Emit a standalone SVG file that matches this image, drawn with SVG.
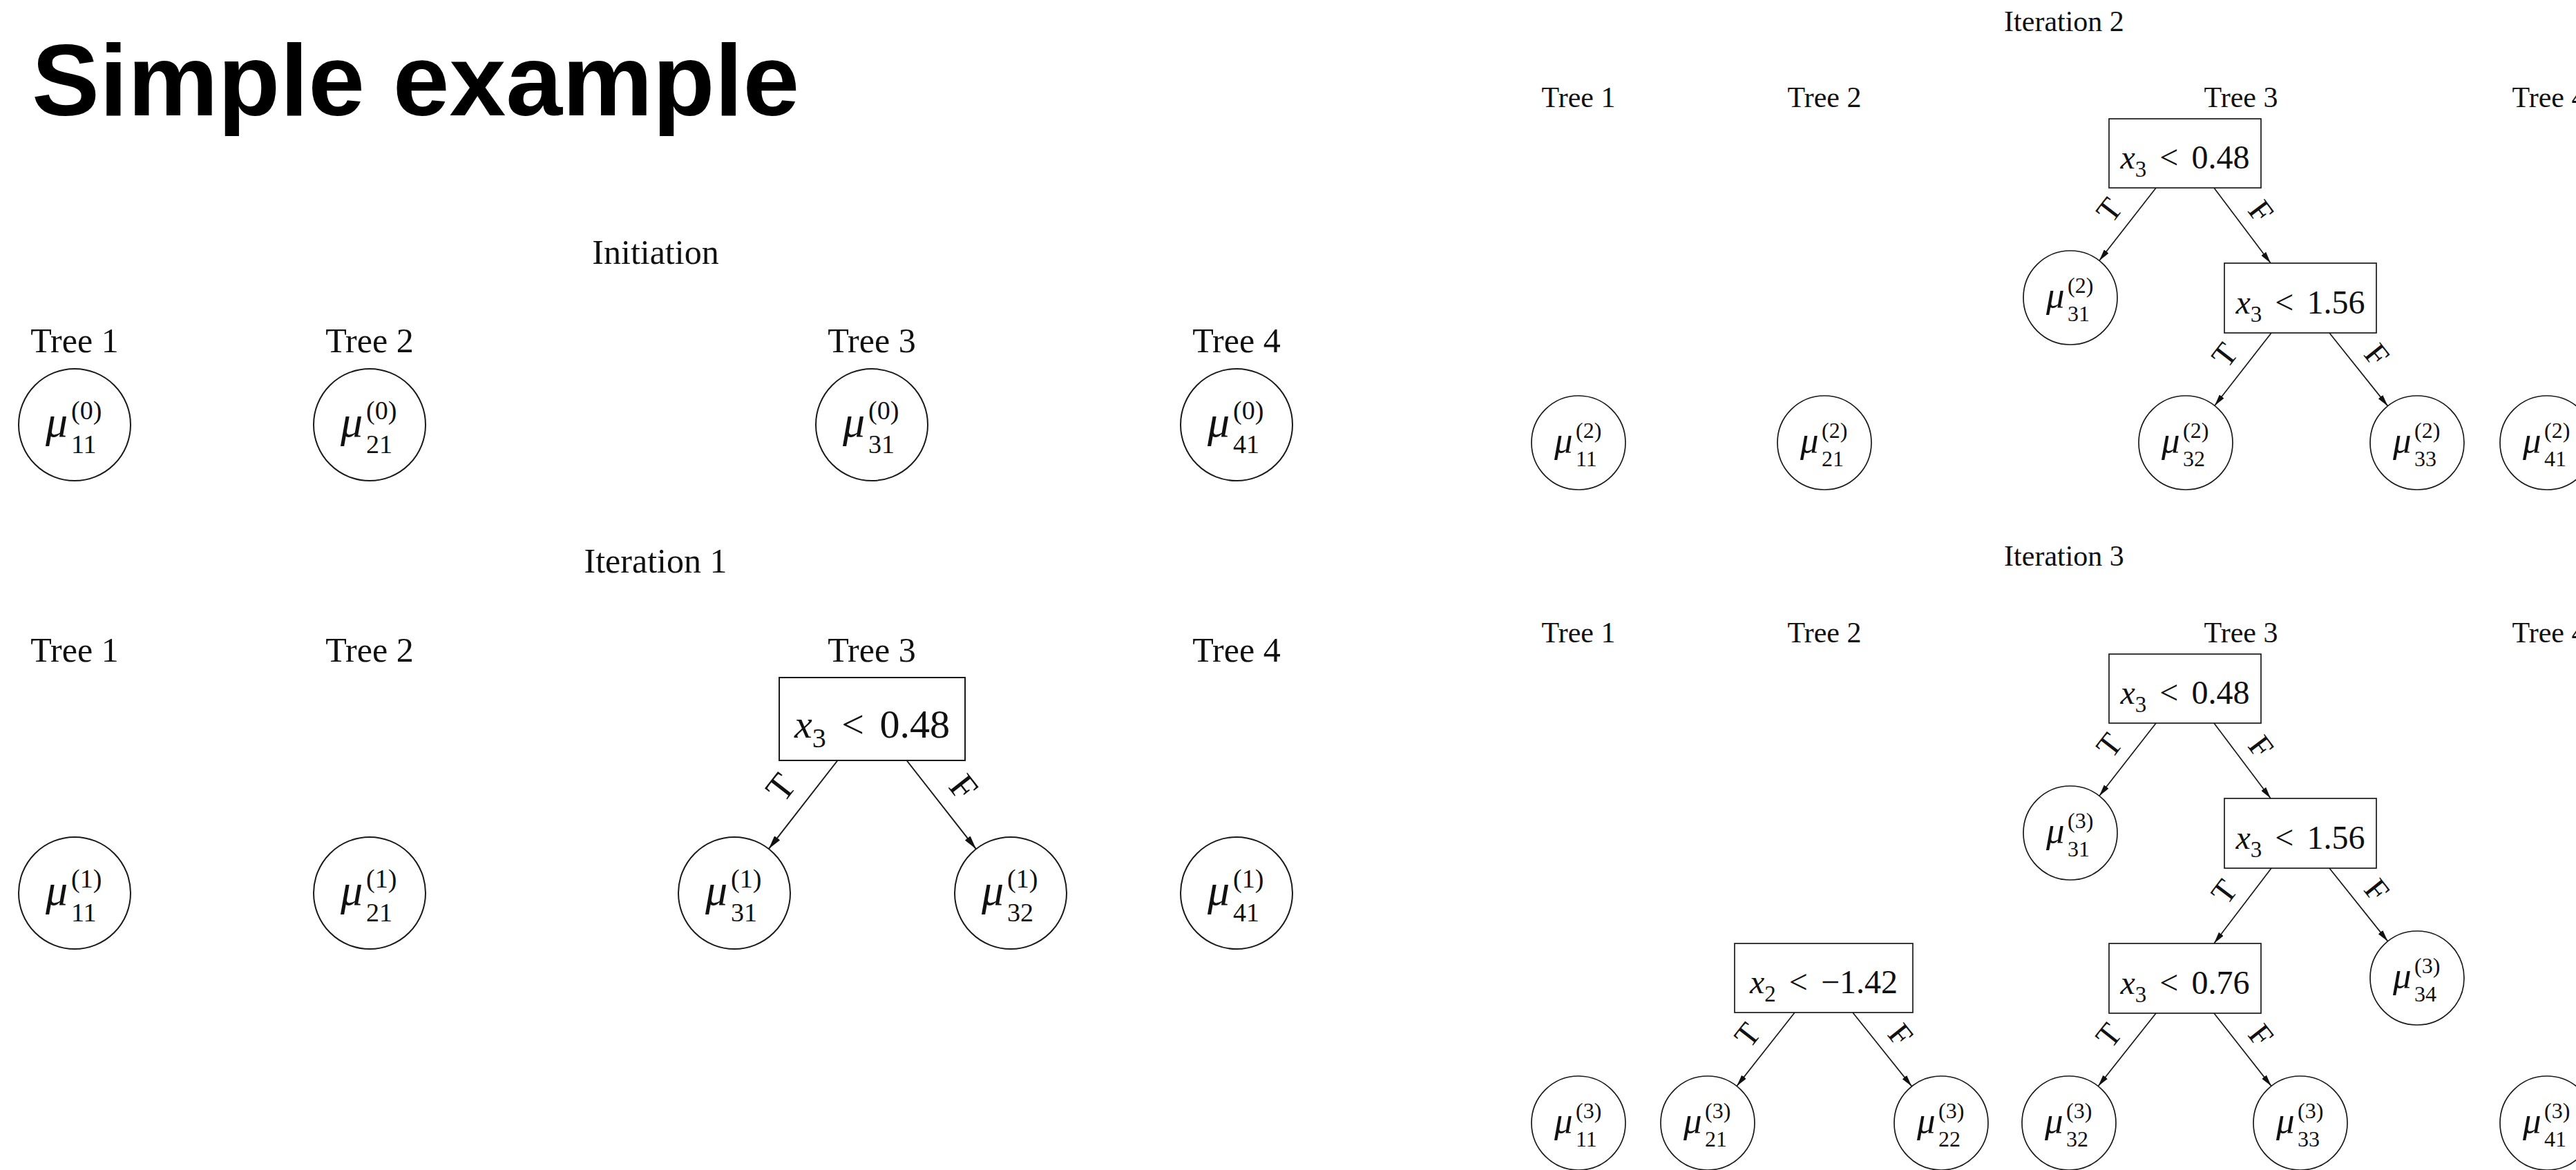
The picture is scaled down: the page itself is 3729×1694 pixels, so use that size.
<svg xmlns="http://www.w3.org/2000/svg" width="3729" height="1694" viewBox="0 0 3729 1694">
<style>
.bg{fill:#fff}
.title{font-family:"Liberation Sans",Arial,sans-serif;font-weight:bold;font-size:147px;fill:#000}
.t{font-family:"Liberation Serif","Times New Roman",serif;fill:#111}
.hL{font-size:50px;text-anchor:middle}
.hR{font-size:42px;text-anchor:middle}
.L circle,.L rect{fill:#fff;stroke:#1a1a1a;stroke-width:2}
.R circle,.R rect{fill:#fff;stroke:#1a1a1a;stroke-width:1.7}
.mu{font-style:italic}
.L .m{font-size:64px}
.L .s{font-size:38px}
.R .m{font-size:53px}
.R .s{font-size:32px}
.L .c{font-size:58px;text-anchor:middle}
.R .c{font-size:48px;text-anchor:middle}
.L .c .s{font-size:40px}
.R .c .s{font-size:33px}
.eL line{stroke:#1a1a1a;stroke-width:2;marker-end:url(#ah)}
.eR line{stroke:#1a1a1a;stroke-width:1.7;marker-end:url(#ah)}
.eL text{font-size:54px;text-anchor:middle}
.eR text{font-size:47px;text-anchor:middle}
</style>
<defs>
<marker id="ah" viewBox="0 0 10 5" refX="10" refY="2.5" markerWidth="10" markerHeight="5" orient="auto" markerUnits="strokeWidth"><path d="M0,0 L10,2.5 L0,5 z" fill="#111"/></marker>
</defs>
<rect class="bg" x="0" y="0" width="3729" height="1694"/>
<text class="title" x="46" y="167">Simple example</text>

<!-- Left panel headings -->
<g id="headings-left" class="t">
<text class="hL" x="949" y="382">Initiation</text>
<text class="hL" x="108" y="510">Tree 1</text>
<text class="hL" x="535" y="510">Tree 2</text>
<text class="hL" x="1262" y="510">Tree 3</text>
<text class="hL" x="1790" y="510">Tree 4</text>
<text class="hL" x="949" y="829">Iteration 1</text>
<text class="hL" x="108" y="958">Tree 1</text>
<text class="hL" x="535" y="958">Tree 2</text>
<text class="hL" x="1262" y="958">Tree 3</text>
<text class="hL" x="1790" y="958">Tree 4</text>
</g>

<!-- Initiation nodes -->
<g id="init-mu11" class="L"><circle cx="108" cy="615" r="81"/><text class="t"><tspan class="m mu" x="66" y="632">μ</tspan><tspan class="s" x="103" y="607">(0)</tspan><tspan class="s" x="103" y="656">11</tspan></text></g>
<g id="init-mu21" class="L"><circle cx="535" cy="615" r="81"/><text class="t"><tspan class="m mu" x="493" y="632">μ</tspan><tspan class="s" x="530" y="607">(0)</tspan><tspan class="s" x="530" y="656">21</tspan></text></g>
<g id="init-mu31" class="L"><circle cx="1262" cy="615" r="81"/><text class="t"><tspan class="m mu" x="1220" y="632">μ</tspan><tspan class="s" x="1257" y="607">(0)</tspan><tspan class="s" x="1257" y="656">31</tspan></text></g>
<g id="init-mu41" class="L"><circle cx="1790" cy="615" r="81"/><text class="t"><tspan class="m mu" x="1748" y="632">μ</tspan><tspan class="s" x="1785" y="607">(0)</tspan><tspan class="s" x="1785" y="656">41</tspan></text></g>

<!-- Iteration 1 nodes -->
<g id="it1-mu11" class="L"><circle cx="108" cy="1293" r="81"/><text class="t"><tspan class="m mu" x="66" y="1310">μ</tspan><tspan class="s" x="103" y="1285">(1)</tspan><tspan class="s" x="103" y="1334">11</tspan></text></g>
<g id="it1-mu21" class="L"><circle cx="535" cy="1293" r="81"/><text class="t"><tspan class="m mu" x="493" y="1310">μ</tspan><tspan class="s" x="530" y="1285">(1)</tspan><tspan class="s" x="530" y="1334">21</tspan></text></g>
<g id="it1-split1" class="L"><rect x="1128" y="981" width="269" height="120"/><text class="t c" x="1262.5" y="1068"><tspan class="mu">x</tspan><tspan class="s" dy="14">3</tspan><tspan dy="-14" dx="8"> &lt;</tspan><tspan dx="8"> 0.48</tspan></text></g>
<g id="it1-mu31" class="L"><circle cx="1063" cy="1293" r="81"/><text class="t"><tspan class="m mu" x="1021" y="1310">μ</tspan><tspan class="s" x="1058" y="1285">(1)</tspan><tspan class="s" x="1058" y="1334">31</tspan></text></g>
<g id="it1-mu32" class="L"><circle cx="1463" cy="1293" r="81"/><text class="t"><tspan class="m mu" x="1421" y="1310">μ</tspan><tspan class="s" x="1458" y="1285">(1)</tspan><tspan class="s" x="1458" y="1334">32</tspan></text></g>
<g id="it1-mu41" class="L"><circle cx="1790" cy="1293" r="81"/><text class="t"><tspan class="m mu" x="1748" y="1310">μ</tspan><tspan class="s" x="1785" y="1285">(1)</tspan><tspan class="s" x="1785" y="1334">41</tspan></text></g>

<!-- Right panel headings -->
<g id="headings-right" class="t">
<text class="hR" x="2988" y="45">Iteration 2</text>
<text class="hR" x="2285" y="155">Tree 1</text>
<text class="hR" x="2641" y="155">Tree 2</text>
<text class="hR" x="3244" y="155">Tree 3</text>
<text class="hR" x="3690" y="155">Tree 4</text>
<text class="hR" x="2988" y="819">Iteration 3</text>
<text class="hR" x="2285" y="930">Tree 1</text>
<text class="hR" x="2641" y="930">Tree 2</text>
<text class="hR" x="3244" y="930">Tree 3</text>
<text class="hR" x="3690" y="930">Tree 4</text>
</g>

<!-- Iteration 2 nodes -->
<g id="it2-split1" class="R"><rect x="3053" y="172" width="220" height="100"/><text class="t c" x="3163" y="244"><tspan class="mu">x</tspan><tspan class="s" dy="12">3</tspan><tspan dy="-12" dx="7"> &lt;</tspan><tspan dx="7"> 0.48</tspan></text></g>
<g id="it2-mu31" class="R"><circle cx="2997" cy="431" r="68"/><text class="t"><tspan class="m mu" x="2962" y="445">μ</tspan><tspan class="s" x="2993" y="424">(2)</tspan><tspan class="s" x="2993" y="465">31</tspan></text></g>
<g id="it2-split2" class="R"><rect x="3220" y="381" width="220" height="101"/><text class="t c" x="3330" y="453.5"><tspan class="mu">x</tspan><tspan class="s" dy="12">3</tspan><tspan dy="-12" dx="7"> &lt;</tspan><tspan dx="7"> 1.56</tspan></text></g>
<g id="it2-mu11" class="R"><circle cx="2285" cy="641" r="68"/><text class="t"><tspan class="m mu" x="2250" y="655">μ</tspan><tspan class="s" x="2281" y="634">(2)</tspan><tspan class="s" x="2281" y="675">11</tspan></text></g>
<g id="it2-mu21" class="R"><circle cx="2641" cy="641" r="68"/><text class="t"><tspan class="m mu" x="2606" y="655">μ</tspan><tspan class="s" x="2637" y="634">(2)</tspan><tspan class="s" x="2637" y="675">21</tspan></text></g>
<g id="it2-mu32" class="R"><circle cx="3164" cy="641" r="68"/><text class="t"><tspan class="m mu" x="3129" y="655">μ</tspan><tspan class="s" x="3160" y="634">(2)</tspan><tspan class="s" x="3160" y="675">32</tspan></text></g>
<g id="it2-mu33" class="R"><circle cx="3499" cy="641" r="68"/><text class="t"><tspan class="m mu" x="3464" y="655">μ</tspan><tspan class="s" x="3495" y="634">(2)</tspan><tspan class="s" x="3495" y="675">33</tspan></text></g>
<g id="it2-mu41" class="R"><circle cx="3687" cy="641" r="68"/><text class="t"><tspan class="m mu" x="3652" y="655">μ</tspan><tspan class="s" x="3683" y="634">(2)</tspan><tspan class="s" x="3683" y="675">41</tspan></text></g>

<!-- Iteration 3 nodes -->
<g id="it3-split1" class="R"><rect x="3053" y="947" width="220" height="100"/><text class="t c" x="3163" y="1019"><tspan class="mu">x</tspan><tspan class="s" dy="12">3</tspan><tspan dy="-12" dx="7"> &lt;</tspan><tspan dx="7"> 0.48</tspan></text></g>
<g id="it3-mu31" class="R"><circle cx="2997" cy="1206" r="68"/><text class="t"><tspan class="m mu" x="2962" y="1220">μ</tspan><tspan class="s" x="2993" y="1199">(3)</tspan><tspan class="s" x="2993" y="1240">31</tspan></text></g>
<g id="it3-split2" class="R"><rect x="3220" y="1156" width="220" height="101"/><text class="t c" x="3330" y="1228.5"><tspan class="mu">x</tspan><tspan class="s" dy="12">3</tspan><tspan dy="-12" dx="7"> &lt;</tspan><tspan dx="7"> 1.56</tspan></text></g>
<g id="it3-split3" class="R"><rect x="3053" y="1366" width="220" height="101"/><text class="t c" x="3163" y="1438.5"><tspan class="mu">x</tspan><tspan class="s" dy="12">3</tspan><tspan dy="-12" dx="7"> &lt;</tspan><tspan dx="7"> 0.76</tspan></text></g>
<g id="it3-mu34" class="R"><circle cx="3499" cy="1416" r="68"/><text class="t"><tspan class="m mu" x="3464" y="1430">μ</tspan><tspan class="s" x="3495" y="1409">(3)</tspan><tspan class="s" x="3495" y="1450">34</tspan></text></g>
<g id="it3-split-t2" class="R"><rect x="2511" y="1366" width="258" height="100"/><text class="t c" x="2640" y="1438"><tspan class="mu">x</tspan><tspan class="s" dy="12">2</tspan><tspan dy="-12" dx="7"> &lt;</tspan><tspan dx="7"> −1.42</tspan></text></g>
<g id="it3-mu11" class="R"><circle cx="2285" cy="1626" r="68"/><text class="t"><tspan class="m mu" x="2250" y="1640">μ</tspan><tspan class="s" x="2281" y="1619">(3)</tspan><tspan class="s" x="2281" y="1660">11</tspan></text></g>
<g id="it3-mu21" class="R"><circle cx="2472" cy="1626" r="68"/><text class="t"><tspan class="m mu" x="2437" y="1640">μ</tspan><tspan class="s" x="2468" y="1619">(3)</tspan><tspan class="s" x="2468" y="1660">21</tspan></text></g>
<g id="it3-mu22" class="R"><circle cx="2810" cy="1626" r="68"/><text class="t"><tspan class="m mu" x="2775" y="1640">μ</tspan><tspan class="s" x="2806" y="1619">(3)</tspan><tspan class="s" x="2806" y="1660">22</tspan></text></g>
<g id="it3-mu32" class="R"><circle cx="2995" cy="1626" r="68"/><text class="t"><tspan class="m mu" x="2960" y="1640">μ</tspan><tspan class="s" x="2991" y="1619">(3)</tspan><tspan class="s" x="2991" y="1660">32</tspan></text></g>
<g id="it3-mu33" class="R"><circle cx="3330" cy="1626" r="68"/><text class="t"><tspan class="m mu" x="3295" y="1640">μ</tspan><tspan class="s" x="3326" y="1619">(3)</tspan><tspan class="s" x="3326" y="1660">33</tspan></text></g>
<g id="it3-mu41" class="R"><circle cx="3687" cy="1626" r="68"/><text class="t"><tspan class="m mu" x="3652" y="1640">μ</tspan><tspan class="s" x="3683" y="1619">(3)</tspan><tspan class="s" x="3683" y="1660">41</tspan></text></g>

<!-- Connectors -->
<g id="connectors">
<g class="eL t">
<line x1="1212.5" y1="1101" x2="1112.8" y2="1229.1"/>
<text transform="translate(1130.3,1139.8) rotate(-52.1)" x="0" y="18">T</text>
<line x1="1312.5" y1="1101" x2="1413" y2="1229.3"/>
<text transform="translate(1395,1140) rotate(51.9)" x="0" y="18">F</text>
</g>
<g class="eR t">
<line x1="3121" y1="272" x2="3038.8" y2="377.4"/>
<text transform="translate(3053.1,303.8) rotate(-52.1)" x="0" y="16">T</text>
<line x1="3205" y1="272" x2="3287" y2="381"/>
<text transform="translate(3273.2,306.1) rotate(53)" x="0" y="16">F</text>
<line x1="3288" y1="482" x2="3205.8" y2="587.4"/>
<text transform="translate(3220.1,513.8) rotate(-52.1)" x="0" y="16">T</text>
<line x1="3372" y1="482" x2="3456.6" y2="587.9"/>
<text transform="translate(3440.9,513.7) rotate(51.4)" x="0" y="16">F</text>

<line x1="3121" y1="1047" x2="3038.8" y2="1152.4"/>
<text transform="translate(3053.1,1078.8) rotate(-52.1)" x="0" y="16">T</text>
<line x1="3205" y1="1047" x2="3287" y2="1156"/>
<text transform="translate(3273.2,1081.1) rotate(53)" x="0" y="16">F</text>
<line x1="3288" y1="1257" x2="3205" y2="1366"/>
<text transform="translate(3219.4,1290.9) rotate(-52.7)" x="0" y="16">T</text>
<line x1="3372" y1="1257" x2="3456.6" y2="1362.9"/>
<text transform="translate(3440.9,1288.7) rotate(51.4)" x="0" y="16">F</text>
<line x1="3121" y1="1467" x2="3037.2" y2="1572.7"/>
<text transform="translate(3052.4,1498.8) rotate(-51.6)" x="0" y="16">T</text>
<line x1="3205" y1="1467" x2="3288" y2="1572.6"/>
<text transform="translate(3273.2,1498.8) rotate(51.8)" x="0" y="16">F</text>
<line x1="2598" y1="1466" x2="2514.1" y2="1572.6"/>
<text transform="translate(2529.3,1498.3) rotate(-51.7)" x="0" y="16">T</text>
<line x1="2682" y1="1466" x2="2767.5" y2="1572.9"/>
<text transform="translate(2751.4,1498.2) rotate(51.3)" x="0" y="16">F</text>
</g>
</g>
</svg>
